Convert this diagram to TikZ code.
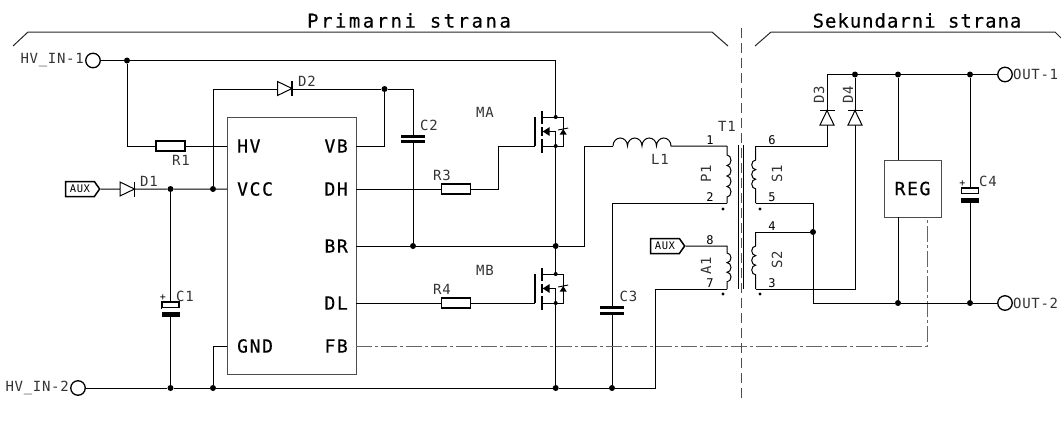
\documentclass[tikz,border=0pt]{standalone}
\usepackage{fontspec}
\usetikzlibrary{shapes.symbols}
\newfontfamily\pinfont[LetterSpace=9,FakeBold=0.5]{DejaVu Sans Mono}
\newfontfamily\lblfont[LetterSpace=5]{DejaVu Sans Mono}
\newfontfamily\numfont{DejaVu Sans Mono}
\newfontfamily\prifont[LetterSpace=13,FakeBold=0.3]{DejaVu Sans Mono}
\newfontfamily\secfont[LetterSpace=5,FakeBold=0.3]{DejaVu Sans Mono}

\tikzset{
  wire/.style={line width=1pt, line join=miter},
  bar/.style={line width=1.7pt},
  dashdot/.style={line width=0.9pt, black!60, dash pattern=on 16pt off 3pt on 3pt off 3pt},
  dot/.style={circle, fill, inner sep=0pt, minimum size=6pt},
  smalldot/.style={circle, fill, inner sep=0pt, minimum size=4pt},
  tinydot/.style={circle, fill, inner sep=0pt, minimum size=3.4pt},
  terminal/.style={circle, draw, line width=1.3pt, fill=white, inner sep=0pt, minimum size=14.5pt},
  resistor/.style={draw, line width=1.5pt, fill=white, inner sep=0pt, minimum width=29pt, minimum height=10pt},
  chipbox/.style={draw=black!70, line width=1pt, inner sep=0pt},
  auxtag/.style={draw, line width=1.5pt, fill=white, shape=signal, signal to=east, signal pointer angle=110,
    inner sep=0pt, minimum width=34pt, minimum height=15pt, font=\lblfont\fontsize{10.5}{12}\selectfont},
  lbl/.style={inner sep=0pt, font=\lblfont\fontsize{14}{16}\selectfont, black!80},
  num/.style={inner sep=0pt, font=\numfont\fontsize{12}{14}\selectfont},
  pin/.style={inner sep=0pt, font=\pinfont\fontsize{18}{20}\selectfont},
  pics/diode/.style={code={
    \draw [wire, fill=white] (-7.5,-7) -- (7,0) -- (-7.5,7) -- cycle;
    \draw [bar] (7,-7.5) -- (7,7.5);
  }},
  pics/capa/.style={code={
    \fill [white] (-12,-2) rectangle (12,2);
    \fill (-12,-4.2) rectangle (12,-1.3);
    \fill (-12,1.3) rectangle (12,4.2);
  }},
  pics/polar/.style={code={
    \draw [line width=1.4pt, fill=white] (-8.5,-7.5) rectangle (8.5,-1.5);
    \fill [white] (-9,-1.5) rectangle (9,2.5);
    \fill (-9,2.5) rectangle (9,7.5);
    \node [inner sep=0pt, font=\numfont\fontsize{10}{10}\selectfont] (plus) at (-7.5,-11.5) {+};
  }},
  pics/mosfet/.style={code={
    \draw [bar] (-7,-14.5) -- (-7,14.5);
    \foreach \a/\b in {-21/-7.5,-4.5/4.5,7.5/21.5}
      \draw [bar] (0,\a) -- (0,\b);
    \draw [wire] (0,-14.5) -- (21.5,-14.5) -- (21.5,14.5) -- (0,14.5);
    \draw [wire] (14,14.5) -- (14,0) -- (6,0);
    \fill (1,0) -- (8,-4.5) -- (8,4.5) -- cycle;
    \fill (18,3) -- (25,3) -- (21.5,-2.5) -- cycle;
    \draw [line width=0.9pt] (16.5,-1.5) -- (26.5,-3.5);
  }}
}

\begin{document}
\begin{tikzpicture}[x=1pt, y=-1pt, >=stealth]
\useasboundingbox (0,0) rectangle (1061,426);

\foreach \m/\x/\y in {pinhv/227/146,pinvcc/227/189,pingnd/227/346,pinvb/356/146,pindh/356/189,pinbr/356/246,pindl/356/303,pinfb/356/346,
  magate/535/146,mbgate/535/303,macorner/498.5/146,lcorner/584.5/146,
  lone-a/613/146,lone-b/671/146,pone-a/727/146,pone-b/727/203,aone-a/727/246,aone-b/727/289,aonecorner/655.5/388,
  sone-a/755.7/146,sone-b/755.7/203,stwo-a/755.7/232,stwo-b/755.7/289,dthreetop/827/74.5,
  regtop/898/160,regbot/898/217,regfb/927/217,
  corea/738.7/145,coreb/738.7/289,corec/743.3/145,cored/743.3/289,
  midtop/741/28,midbot/741/400,
  fra/13/46,frb/28/32,frc/712/32,frd/728/46,fre/755/46,frf/771/32,frg/1055/32,frh/1061/38}
  \coordinate (\m) at (\x,\y);

\foreach \m/\x/\y in {jhv/127/60.5,jvb/384.5/89,jcone/170.5/189,jvcc/213/189,jctwo/413/246,jbr/555.7/246,
  jgone/170.5/388,jgnd/213/388,jgmos/555.7/388,jcthree/612/388,jsec/813/232,
  jout/855/74.5,jreg/898/74.5,jcfour/970/74.5,jregb/898/303,jcfourb/970/303}
  \node [dot] (\m) at (\x,\y) {};

\foreach \m/\x/\y in {mad/555.7/117,mas/555.7/146,mbd/555.7/274,mbs/555.7/303}
  \node [smalldot] (\m) at (\x,\y) {};

\foreach \m/\x/\y in {t1/723/209,t2/760/209,t3/723/294,t4/760/294}
  \node [tinydot] (\m) at (\x,\y) {};

\foreach \m/\x/\y in {hvin1/93/60.5,hvin2/78/388,out1/1005/74.5,out2/1005/303}
  \node [terminal] (\m) at (\x,\y) {};

\foreach \m/\x/\y in {rone/170.5/146,rthree/456/189,rfour/456/303}
  \node [resistor] (\m) at (\x,\y) {};

\node [auxtag] (auxa) at (80,189) {AUX};
\node [auxtag] (auxb) at (665,246) {AUX};
\node [chipbox, minimum width=129pt, minimum height=257pt] (ic) at (291.5,245.5) {};
\node [chipbox, minimum width=57pt, minimum height=57pt, font=\pinfont\fontsize{18}{20}\selectfont] (reg) at (912.5,188.5) {REG};

\draw [wire] (hvin1) -- (jhv) -| (mad);
\draw [wire] (jhv) |- (rone);
\draw [wire] (rone) -- (pinhv);
\draw [wire] (auxa) -- (jcone) -- (jvcc) -- (pinvcc);
\draw [wire] (jvcc) |- (jvb);
\draw [wire] (jvb) -| (jctwo);
\draw [wire] (pinvb) -| (jvb);
\draw [wire] (pindh) -- (rthree);
\draw [wire] (rthree) -| (macorner) -- (magate);
\draw [wire] (pinbr) -- (jctwo) -- (jbr);
\draw [wire] (mas) -- (jbr) -- (mbd);
\draw [wire] (jbr) -| (lcorner) -- (lone-a);
\draw [wire] (lone-a) foreach \k in {1,...,4} {arc [start angle=180, end angle=0, x radius=7.25pt, y radius=8pt]} -- (pone-a);
\draw [wire] (pone-a) -- ++(0,9) foreach \k in {1,...,4} {arc [start angle=90, end angle=-90, x radius=4pt, y radius=5.25pt]} -- (pone-b);
\draw [wire] (pone-b) -| (jcthree);
\draw [wire] (mbs) -- (jgmos);
\draw [wire] (hvin2) -- (jgone) -- (jgnd) -- (jgmos) -- (jcthree) -- (aonecorner) |- (aone-b);
\draw [wire] (jcone) -- (jgone);
\draw [wire] (pindl) -- (rfour) -- (mbgate);
\draw [wire] (pingnd) -| (jgnd);
\draw [wire] (auxb) -- (aone-a) -- ++(0,7) foreach \k in {1,2,3} {arc [start angle=90, end angle=-90, x radius=4pt, y radius=4.8pt]} -- (aone-b);
\draw [dashdot] (pinfb) -| (regfb);
\draw [wire] (sone-a) -- ++(0,14) foreach \k in {1,2,3} {arc [start angle=90, end angle=270, x radius=4pt, y radius=4.8pt]} -- (sone-b);
\draw [wire] (stwo-a) -- ++(0,14) foreach \k in {1,2,3} {arc [start angle=90, end angle=270, x radius=4pt, y radius=4.8pt]} -- (stwo-b);
\draw [wire] (sone-a) -| (dthreetop) -- (jout) -- (jreg) -- (jcfour) -- (out1);
\draw [wire] (jout) |- (stwo-b);
\draw [wire] (sone-b) -| (jsec);
\draw [wire] (stwo-a) -- (jsec);
\draw [wire] (jsec) |- (jregb);
\draw [wire] (jregb) -- (jcfourb) -- (out2);
\draw [wire] (jreg) -- (regtop);
\draw [wire] (regbot) -- (jregb);
\draw [wire] (jcfour) -- (jcfourb);

\draw [line width=1.3pt] (corea) -- (coreb);
\draw [line width=1.3pt] (corec) -- (cored);
\draw [line width=0.9pt, black!70, dash pattern=on 10pt off 5pt] (midtop) -- (midbot);
\draw [line width=1pt, black!85] (fra) -- (frb) -- (frc) -- (frd);
\draw [line width=1pt, black!85] (fre) -- (frf) -- (frg) -- (frh);

\pic (done) at (127.5,189) {diode};
\pic (dtwo) at (285,88.5) {diode};
\pic [rotate=90] (dthree) at (827,117.5) {diode};
\pic [rotate=90] (dfour) at (855,117.5) {diode};
\pic (ctwo) at (413,139) {capa};
\pic (cthree) at (612,310.5) {capa};
\pic (cone) at (170.5,309.5) {polar};
\pic (cfour) at (970,195.5) {polar};
\pic (ma) at (541.7,131.5) {mosfet};
\pic (mb) at (541.7,288.5) {mosfet};

\foreach \n/\t/\x/\y in {ldone/D1/149/181,ldtwo/D2/307/81,lrone/R1/181/160,lrthree/R3/442/175,lrfour/R4/442/289,
  lma/MA/485/112,lmb/MB/485/270,lcone/C1/185/296,lctwo/C2/429/125,lcthree/C3/628.5/296,lcfour/C4/988/181,
  ltone/T1/727/126,llone/L1/660/159}
  \node [lbl] (\n) at (\x,\y) {\t};

\foreach \n/\t/\x/\y in {lpone/P1/706/174,laone/A1/706/266,lsone/S1/777/174,lstwo/S2/777/260,lthree/D3/819/95,lfour/D4/848/95}
  \node [lbl, rotate=90] (\n) at (\x,\y) {\t};

\foreach \n/\t/\x/\y in {none/1/710/140,ntwo/2/710/197,neight/8/710/240,nseven/7/710/283,nsix/6/772/140,nfive/5/772/197,nfour/4/772/226,nthree/3/772/283}
  \node [num] (\n) at (\x,\y) {\t};

\foreach \n/\t/\y in {thv/HV/146,tvcc/VCC/189,tgnd/GND/346}
  \node [pin, anchor=west] (\n) at (237,\y) {\t};

\foreach \n/\t/\y in {tvb/VB/146,tdh/DH/189,tbr/BR/246,tdl/DL/303,tfb/FB/346}
  \node [pin, anchor=east] (\n) at (348,\y) {\t};

\node [lbl, anchor=east] (thvin1) at (84,60.5) {HV\_IN-1};
\node [lbl, anchor=east] (thvin2) at (69,388) {HV\_IN-2};
\node [lbl, anchor=west] (tout1) at (1013,74.5) {OUT-1};
\node [lbl, anchor=west] (tout2) at (1013,303) {OUT-2};
\node [inner sep=0pt, font=\prifont\fontsize{19}{22}\selectfont] (tprim) at (409,20.5) {Primarni strana};
\node [inner sep=0pt, font=\secfont\fontsize{19}{22}\selectfont] (tsec) at (917,20.5) {Sekundarni strana};
\end{tikzpicture}
\end{document}
